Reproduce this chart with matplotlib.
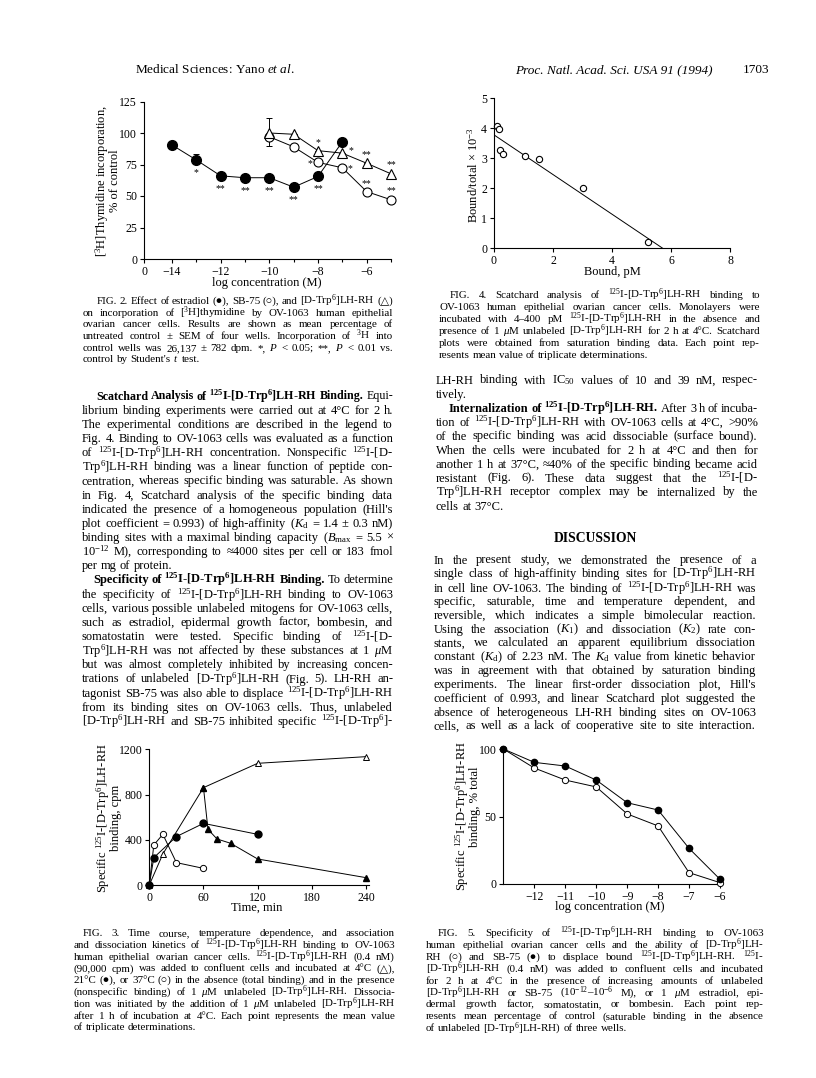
import matplotlib
matplotlib.use('Agg')
import matplotlib.pyplot as plt

W, H = 816, 1078

# ---------------- data ----------------
# Fig. 2
fig2_conc_estradiol = [-14, -13, -12, -11, -10, -9, -8, -7]
fig2_estradiol = [90.5, 78.6, 66.0, 64.5, 64.5, 57.0, 65.5, 93.0]
fig2_estradiol_err = [0, 4.5, 1.5, 2.5, 0, 0, 3, 3]
fig2_estradiol_sig = ['', '*', '**', '**', '**', '**', '**', '']
fig2_conc_peptide = [-10, -9, -8, -7, -6, -5]
fig2_sb75 = [97.0, 89.0, 76.7, 72.4, 53.5, 47.0]
fig2_sb75_err = [7, 0, 0, 0, 0, 0]
fig2_sb75_sig = ['', '', '*', '*', '**', '**']
fig2_lhrh = [100.0, 99.0, 86.0, 84.0, 76.0, 67.6]
fig2_lhrh_err = [12, 0, 0, 0, 0, 0]
fig2_lhrh_sig = ['', '', '*', '*', '**', '**']
fig2_xticks = [-14, -12, -10, -8, -6]
fig2_yticks = [0, 25, 50, 75, 100, 125]

# Fig. 3
fig3_t_4c = [0, 15, 60, 120, 240]
fig3_4c = [0, 274, 861, 1076, 1135]
fig3_t_diss = [60, 65, 75, 90, 120, 240]
fig3_diss = [861, 492, 407, 369, 230, 65]
fig3_t_21 = [0, 5, 30, 60, 120]
fig3_21 = [0, 242, 428, 545, 448]
fig3_t_37 = [0, 5, 15, 30, 60]
fig3_37 = [0, 354, 448, 198, 147]
fig3_xticks = [0, 60, 120, 180, 240]
fig3_yticks = [0, 400, 800, 1200]

# Fig. 4
fig4_bound = [0.11, 0.17, 0.21, 0.29, 1.05, 1.54, 3.03, 5.22]
fig4_bt = [4.08, 3.98, 3.28, 3.13, 3.08, 2.98, 2.0, 0.2]
fig4_fit_x = [0.0, 5.72]
fig4_fit_y = [3.78, 0.0]
fig4_xticks = [0, 2, 4, 6, 8]
fig4_yticks = [0, 1, 2, 3, 4, 5]

# Fig. 5
fig5_conc = [-13, -12, -11, -10, -9, -8, -7, -6]
fig5_sb75 = [100, 90.1, 87.4, 77.0, 60.2, 54.8, 26.4, 3.5]
fig5_lhrh = [100, 85.9, 77.0, 71.9, 51.9, 43.0, 8.4, 1.0]
fig5_xticks = [-12, -11, -10, -9, -8, -7, -6]
fig5_yticks = [0, 50, 100]

# ---------------- style ----------------
plt.rcParams.update({
    'font.family': ['Liberation Serif', 'DejaVu Serif'],
    'mathtext.fontset': 'custom',
    'mathtext.rm': 'Liberation Serif',
    'mathtext.it': 'Liberation Serif:italic',
    'mathtext.bf': 'Liberation Serif:bold',
    'mathtext.default': 'regular',
    'mathtext.fallback': 'stix',
    'axes.linewidth': 0.8,
    'xtick.major.width': 0.8, 'ytick.major.width': 0.8,
    'xtick.minor.width': 0.8,
    'xtick.major.size': 3, 'ytick.major.size': 3, 'xtick.minor.size': 2,
    'xtick.labelsize': 8.5, 'ytick.labelsize': 8.5,
    'xtick.major.pad': 2, 'ytick.major.pad': 2,
    'lines.linewidth': 0.7,
})

fig = plt.figure(figsize=(W / 100, H / 100), dpi=100)
fig.patch.set_facecolor('white')
renderer = fig.canvas.get_renderer()


def add_axes(left, right, top, bottom):
    ax = fig.add_axes([left / W, 1 - bottom / H, (right - left) / W, (bottom - top) / H])
    ax.spines['top'].set_visible(False)
    ax.spines['right'].set_visible(False)
    ax.patch.set_alpha(0)
    return ax


def ftext(x, y, s, **kw):
    return fig.text(x / W, 1 - y / H, s, **kw)


def tokens(line):
    out = []
    bold = False
    for w in line.split(' '):
        if not w:
            continue
        b = bold
        if w.startswith('§'):
            w = w[1:]
            b = True
            bold = True
        if w.endswith('§'):
            w = w[:-1]
            bold = False
        out.append((w, 'bold' if b else 'normal'))
    return out


def draw_line(line, y, x0, x1, size, justify=True):
    toks = tokens(line)
    objs = []
    for w, wt in toks:
        objs.append(fig.text(0, 0, w, fontsize=size, fontweight=wt, ha='left', va='baseline'))
    widths = [t.get_window_extent(renderer).width for t in objs]
    n = len(objs)
    space = size * 100 / 72 * 0.25
    min_gap = size * 100 / 72 * 0.2
    avail = x1 - x0
    if n > 1 and sum(widths) + (n - 1) * min_gap > avail:
        scale = (avail - (n - 1) * min_gap) / sum(widths)
        for t in objs:
            t.set_fontsize(size * scale)
        widths = [t.get_window_extent(renderer).width for t in objs]
    if justify and n > 1:
        gap = (avail - sum(widths)) / (n - 1)
    else:
        gap = space
    x = x0
    for t, w in zip(objs, widths):
        t.set_position((x / W, 1 - y / H))
        x += w + gap


def paragraph(lines, y0, dy, x0, x1, size, indent=0, last_just=False, base=3.5, nudge=None):
    nudge = nudge or {}
    for i, l in enumerate(lines):
        xs = x0 + (indent if i == 0 else 0)
        just = (i < len(lines) - 1) or last_just
        draw_line(l, y0 + i * dy + base + nudge.get(i, 0), xs, x1, size, just)


# ---------------- header ----------------
ftext(215, 73, r'Medical Sciences: Yano $\mathit{et\ al.}$', fontsize=9.5, ha='center', va='baseline')
ftext(515, 73, 'Proc. Natl. Acad. Sci. USA 91 (1994)', fontsize=9.5, style='italic', ha='left', va='baseline')
ftext(743, 73, '1703', fontsize=9.5, ha='left', va='baseline')

# ---------------- Fig. 2 ----------------
ax2 = add_axes(144, 391, 101.5, 259)
x0_pos = -15.15
ax2.set_xlim(x0_pos, -5)
ax2.set_ylim(0, 125)
ax2.plot(fig2_conc_estradiol, fig2_estradiol, '-o', color='black', ms=7, mfc='black', mec='black', clip_on=False, zorder=4)
ax2.errorbar(fig2_conc_estradiol, fig2_estradiol, yerr=[[0] * 8, fig2_estradiol_err], fmt='none', ecolor='black', elinewidth=0.7, capsize=2, capthick=0.7)
ax2.plot(fig2_conc_peptide, fig2_sb75, '-o', color='black', ms=6.5, mfc='white', mec='black', mew=0.8, clip_on=False, zorder=3)
ax2.errorbar(fig2_conc_peptide, fig2_sb75, yerr=[fig2_sb75_err, [0] * 6], fmt='none', ecolor='black', elinewidth=0.7, capsize=2, capthick=0.7)
ax2.plot(fig2_conc_peptide, fig2_lhrh, '-^', color='black', ms=6.5, mfc='white', mec='black', mew=0.8, clip_on=False, zorder=3)
ax2.errorbar(fig2_conc_peptide, fig2_lhrh, yerr=[[0] * 6, fig2_lhrh_err], fmt='none', ecolor='black', elinewidth=0.7, capsize=2, capthick=0.7)
for x, y, s in zip(fig2_conc_estradiol, fig2_estradiol, fig2_estradiol_sig):
    if s:
        ax2.text(x, y - 10, s, fontsize=7, ha='center', va='center')
sb_off = [(0, 0), (0, 0), (-0.35, 0), (0.32, 0), (0, 7), (0, 8)]
for (x, y, s), (dx, dy) in zip(zip(fig2_conc_peptide, fig2_sb75, fig2_sb75_sig), sb_off):
    if s:
        ax2.text(x + dx, y + dy - 1, s, fontsize=7, ha='center', va='center')
lh_off = [(0, 0), (0, 0), (0, 7), (0.35, 3), (0, 8), (0, 8)]
for (x, y, s), (dx, dy) in zip(zip(fig2_conc_peptide, fig2_lhrh, fig2_lhrh_sig), lh_off):
    if s:
        ax2.text(x + dx, y + dy - 1, s, fontsize=7, ha='center', va='center', clip_on=False)
ax2.set_xticks([x0_pos] + fig2_xticks)
ax2.set_xticklabels(['0'] + [f'\u2212{abs(v)}' for v in fig2_xticks])
ax2.set_xticks([-13, -11, -9, -7, -5], minor=True)
ax2.set_yticks(fig2_yticks)
ax2.tick_params(direction='out')
ftext(267, 283, 'log concentration (M)', fontsize=9, ha='center', va='center')
ftext(102, 181, r'[$^{3}$H]Thymidine incorporation,', fontsize=9, rotation=90, ha='center', va='center')
ftext(115, 181, '% of control', fontsize=9, rotation=90, ha='center', va='center')

# ---------------- Fig. 4 ----------------
ax4 = add_axes(494, 730, 98.3, 248.3)
ax4.set_xlim(0, 8)
ax4.set_ylim(0, 5)
ax4.plot(fig4_fit_x, fig4_fit_y, '-', color='black', lw=0.7)
ax4.plot(fig4_bound, fig4_bt, 'o', ms=4.5, mfc='white', mec='black', mew=0.8, clip_on=False)
ax4.set_xticks(fig4_xticks)
ax4.set_yticks(fig4_yticks)
ax4.tick_params(direction='out')
ftext(612, 272, 'Bound, pM', fontsize=9, ha='center', va='center')
ftext(473, 175, r'Bound/total $\times$ 10$^{-3}$', fontsize=9, rotation=90, ha='center', va='center')

# ---------------- Fig. 3 ----------------
ax3 = add_axes(149.3, 368.7, 749.3, 885)
ax3.set_xlim(0, 243)
ax3.set_ylim(0, 1200)
ax3.plot(fig3_t_4c, fig3_4c, '-^', color='black', ms=4, mfc='white', mec='black', mew=0.7, clip_on=False)
ax3.plot(fig3_t_diss, fig3_diss, '-^', color='black', ms=4.5, mfc='black', mec='black', clip_on=False, zorder=4)
ax3.plot(fig3_t_37, fig3_37, '-o', color='black', ms=4.5, mfc='white', mec='black', mew=0.7, clip_on=False)
ax3.plot(fig3_t_21, fig3_21, '-o', color='black', ms=5, mfc='black', mec='black', clip_on=False, zorder=5)
ax3.set_xticks(fig3_xticks)
ax3.set_yticks(fig3_yticks)
ax3.tick_params(direction='out')
ftext(257, 908, 'Time, min', fontsize=9, ha='center', va='center')
ftext(103, 818, r'Specific $^{125}$I-[D-Trp$^{6}$]LH-RH', fontsize=9, rotation=90, ha='center', va='center')
ftext(116, 818, 'binding, cpm', fontsize=9, rotation=90, ha='center', va='center')

# ---------------- Fig. 5 ----------------
ax5 = add_axes(503.4, 720, 749, 884)
ax5.set_xlim(-13, -6)
ax5.set_ylim(0, 100)
ax5.plot(fig5_conc, fig5_sb75, '-o', color='black', ms=4.5, mfc='black', mec='black', clip_on=False, zorder=4)
ax5.plot(fig5_conc, fig5_lhrh, '-o', color='black', ms=4.5, mfc='white', mec='black', mew=0.7, clip_on=False, zorder=3)
ax5.set_xticks(fig5_xticks)
ax5.set_xticklabels([f'\u2212{abs(v)}' for v in fig5_xticks])
ax5.set_yticks(fig5_yticks)
ax5.tick_params(direction='out')
ftext(610, 907, 'log concentration (M)', fontsize=9, ha='center', va='center')
ftext(462, 816, r'Specific $^{125}$I-[D-Trp$^{6}$]LH-RH', fontsize=9, rotation=90, ha='center', va='center')
ftext(475, 807, 'binding, % total', fontsize=9, rotation=90, ha='center', va='center')

# ---------------- text ----------------
I125 = r'$^{125}$I-[D-Trp$^{6}$]LH-RH'
BODY = 9.0
CAP = 7.9

fig2_caption = [
    'FIG. 2. Effect of estradiol (●), SB-75 (○), and [D-Trp$^{6}$]LH-RH (△)',
    'on incorporation of [$^{3}$H]thymidine by OV-1063 human epithelial',
    'ovarian cancer cells. Results are shown as mean percentage of',
    'untreated control ± SEM of four wells. Incorporation of $^{3}$H into',
    r'control wells was 26,137 ± 782 dpm. *, $\mathit{P}$ < 0.05; **, $\mathit{P}$ < 0.01 vs.',
    r"control by Student's $\mathit{t}$ test.",
]
paragraph(fig2_caption, 301, 11.7, 83, 393, CAP, indent=14, base=3)

scatchard_par = [
    '§Scatchard Analysis of ' + I125 + ' Binding.§ Equi-',
    'librium binding experiments were carried out at 4°C for 2 h.',
    'The experimental conditions are described in the legend to',
    'Fig. 4. Binding to OV-1063 cells was evaluated as a function',
    'of ' + I125 + ' concentration. Nonspecific $^{125}$I-[D-',
    'Trp$^{6}$]LH-RH binding was a linear function of peptide con-',
    'centration, whereas specific binding was saturable. As shown',
    'in Fig. 4, Scatchard analysis of the specific binding data',
    "indicated the presence of a homogeneous population (Hill's",
    r'plot coefficient = 0.993) of high-affinity ($\mathit{K}_\mathrm{d}$ = 1.4 ± 0.3 nM)',
    r'binding sites with a maximal binding capacity ($\mathit{B}_\mathrm{max}$ = 5.5 ×',
    '10$^{-12}$ M), corresponding to ≈4000 sites per cell or 183 fmol',
    'per mg of protein.',
]
paragraph(scatchard_par, 396, 14.15, 82, 393, BODY, indent=14)

specificity_par = [
    '§Specificity of ' + I125 + ' Binding.§ To determine',
    'the specificity of ' + I125 + ' binding to OV-1063',
    'cells, various possible unlabeled mitogens for OV-1063 cells,',
    'such as estradiol, epidermal growth factor, bombesin, and',
    'somatostatin were tested. Specific binding of $^{125}$I-[D-',
    r'Trp$^{6}$]LH-RH was not affected by these substances at 1 $\mathit{μ}$M',
    'but was almost completely inhibited by increasing concen-',
    'trations of unlabeled [D-Trp$^{6}$]LH-RH (Fig. 5). LH-RH an-',
    'tagonist SB-75 was also able to displace ' + I125,
    'from its binding sites on OV-1063 cells. Thus, unlabeled',
    '[D-Trp$^{6}$]LH-RH and SB-75 inhibited specific $^{125}$I-[D-Trp$^{6}$]-',
]
paragraph(specificity_par, 396 + 13 * 14.15, 14.15, 82, 393, BODY, indent=11, last_just=True,
          nudge={0: -0.75, 1: 0.75})

fig4_caption = [
    'FIG. 4. Scatchard analysis of ' + I125 + ' binding to',
    'OV-1063 human epithelial ovarian cancer cells. Monolayers were',
    'incubated with 4–400 pM ' + I125 + ' in the absence and',
    r'presence of 1 $\mathit{μ}$M unlabeled [D-Trp$^{6}$]LH-RH for 2 h at 4°C. Scatchard',
    'plots were obtained from saturation binding data. Each point rep-',
    'resents mean value of triplicate determinations.',
]
paragraph(fig4_caption, 295, 12.1, 439, 760, CAP, indent=11, base=3)

continued_par = [
    'LH-RH binding with IC$_{50}$ values of 10 and 39 nM, respec-',
    'tively.',
]
paragraph(continued_par, 380, 14.0, 436, 758, BODY)

internal_par = [
    '§Internalization of ' + I125 + '.§ After 3 h of incuba-',
    'tion of ' + I125 + ' with OV-1063 cells at 4°C, >90%',
    'of the specific binding was acid dissociable (surface bound).',
    'When the cells were incubated for 2 h at 4°C and then for',
    'another 1 h at 37°C, ≈40% of the specific binding became acid',
    'resistant (Fig. 6). These data suggest that the $^{125}$I-[D-',
    'Trp$^{6}$]LH-RH receptor complex may be internalized by the',
    'cells at 37°C.',
]
paragraph(internal_par, 408, 14.0, 436, 758, BODY, indent=13)

ftext(595, 541.5, 'DISCUSSION', fontsize=9.8, fontweight='bold', ha='center', va='baseline')

discussion_par = [
    'In the present study, we demonstrated the presence of a',
    'single class of high-affinity binding sites for [D-Trp$^{6}$]LH-RH',
    'in cell line OV-1063. The binding of ' + I125 + ' was',
    'specific, saturable, time and temperature dependent, and',
    'reversible, which indicates a simple bimolecular reaction.',
    r'Using the association ($\mathit{K}_{1}$) and dissociation ($\mathit{K}_{2}$) rate con-',
    'stants, we calculated an apparent equilibrium dissociation',
    r'constant ($\mathit{K}_\mathrm{d}$) of 2.23 nM. The $\mathit{K}_\mathrm{d}$ value from kinetic behavior',
    'was in agreement with that obtained by saturation binding',
    "experiments. The linear first-order dissociation plot, Hill's",
    'coefficient of 0.993, and linear Scatchard plot suggested the',
    'absence of heterogeneous LH-RH binding sites on OV-1063',
    'cells, as well as a lack of cooperative site to site interaction.',
]
paragraph(discussion_par, 560, 13.83, 434, 756, BODY, last_just=True, nudge={1: -0.75, 2: 0.75})

fig3_caption = [
    'FIG. 3. Time course, temperature dependence, and association',
    'and dissociation kinetics of ' + I125 + ' binding to OV-1063',
    'human epithelial ovarian cancer cells. ' + I125 + ' (0.4 nM)',
    '(90,000 cpm) was added to confluent cells and incubated at 4°C (△),',
    '21°C (●), or 37°C (○) in the absence (total binding) and in the presence',
    r'(nonspecific binding) of 1 $\mathit{μ}$M unlabeled [D-Trp$^{6}$]LH-RH. Dissocia-',
    r'tion was initiated by the addition of 1 $\mathit{μ}$M unlabeled [D-Trp$^{6}$]LH-RH',
    'after 1 h of incubation at 4°C. Each point represents the mean value',
    'of triplicate determinations.',
]
paragraph(fig3_caption, 933, 11.8, 74, 395, CAP, indent=9, base=3)

fig5_caption = [
    'FIG. 5. Specificity of ' + I125 + ' binding to OV-1063',
    'human epithelial ovarian cancer cells and the ability of [D-Trp$^{6}$]LH-',
    'RH (○) and SB-75 (●) to displace bound ' + I125 + '. $^{125}$I-',
    '[D-Trp$^{6}$]LH-RH (0.4 nM) was added to confluent cells and incubated',
    'for 2 h at 4°C in the presence of increasing amounts of unlabeled',
    r'[D-Trp$^{6}$]LH-RH or SB-75 (10$^{-12}$–10$^{-6}$ M), or 1 $\mathit{μ}$M estradiol, epi-',
    'dermal growth factor, somatostatin, or bombesin. Each point rep-',
    'resents mean percentage of control (saturable binding in the absence',
    'of unlabeled [D-Trp$^{6}$]LH-RH) of three wells.',
]
paragraph(fig5_caption, 933, 11.9, 426, 764, CAP, indent=12, base=3)

fig.savefig('out.png', dpi=100, facecolor='white')
